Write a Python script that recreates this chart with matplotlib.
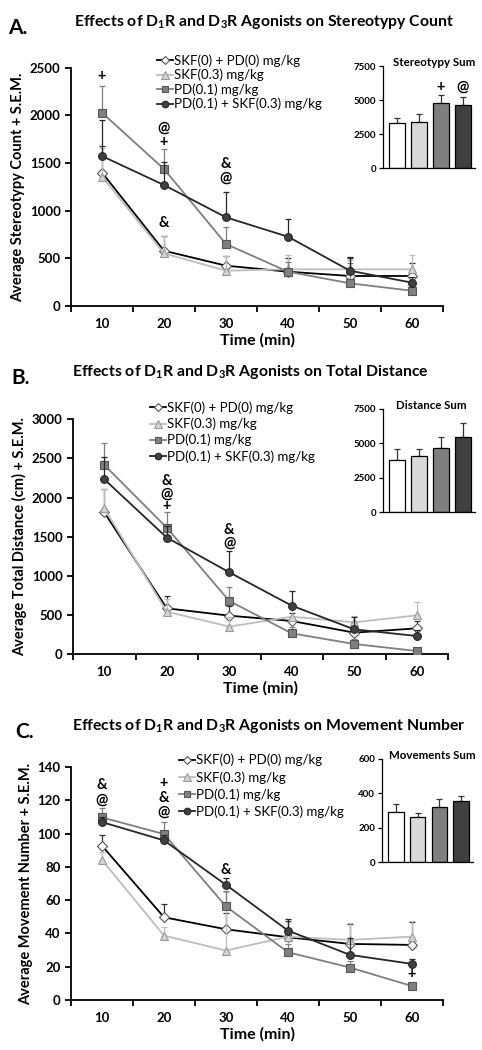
import matplotlib
matplotlib.use("Agg")
import matplotlib.pyplot as plt
import numpy as np

plt.rcParams['font.family'] = ['Lato', 'DejaVu Sans']
plt.rcParams['font.weight'] = 'bold'
plt.rcParams['mathtext.fontset'] = 'custom'
plt.rcParams['mathtext.rm'] = 'Lato:bold'
plt.rcParams['mathtext.bf'] = 'Lato:bold'
plt.rcParams['mathtext.it'] = 'Lato:bold'
plt.rcParams['mathtext.default'] = 'bf'

# ---------------- data ----------------
time = [10, 20, 30, 40, 50, 60]
labels = ["SKF(0) + PD(0) mg/kg", "SKF(0.3) mg/kg", "PD(0.1) mg/kg", "PD(0.1) + SKF(0.3) mg/kg"]

# Panel A: stereotypy count
stereo_mean = [
    [1400, 580, 423, 360, 315, 315],
    [1357, 552, 370, 385, 385, 385],
    [2028, 1437, 650, 360, 238, 160],
    [1573, 1269, 930, 727, 370, 245],
]
stereo_sem = [
    [280, 150, 100, 140, 185, 135],
    [300, 180, 150, 150, 100, 155],
    [280, 206, 182, 100, 210, 60],
    [378, 245, 266, 186, 140, 60],
]
stereo_sum = [3300, 3400, 4780, 4640]
stereo_sum_sem = [400, 600, 580, 550]

# Panel B: total distance
dist_mean = [
    [1811, 584, 490, 422, 273, 328],
    [1863, 541, 350, 477, 405, 494],
    [2417, 1615, 678, 264, 128, 38],
    [2234, 1488, 1044, 618, 315, 230],
]
dist_sem = [
    [295, 162, 120, 100, 120, 100],
    [240, 160, 120, 120, 85, 167],
    [277, 205, 175, 80, 60, 30],
    [290, 150, 277, 192, 160, 80],
]
dist_sum = [3780, 4070, 4630, 5490]
dist_sum_sem = [830, 540, 830, 1000]

# Panel C: movement number
move_mean = [
    [92.7, 49.7, 42.5, 37.7, 33.7, 33.1],
    [84.2, 38.7, 29.7, 38.1, 36.1, 38.1],
    [109.7, 99.7, 56.2, 28.7, 19.5, 8.4],
    [106.9, 95.9, 69.2, 41.7, 27.1, 21.7],
]
move_sem = [
    [6.2, 8.1, 10, 10, 12, 14],
    [5, 5, 35, 9, 10, 9.6],
    [5.6, 7.2, 9, 5, 4, 2],
    [3, 3, 4, 7, 10, 3],
]
move_sum = [290, 265, 319, 356]
move_sum_sem = [50, 22, 50, 30]

# significance annotations: (x, y, text)
annot_A = [(10, 2410, "+"), (20, 1870, "@"), (20, 1720, "+"), (30, 1490, "&"), (30, 1346, "@"), (20, 867, "&")]
annot_B = [(20, 2215, "&"), (20, 2046, "@"), (20, 1890, "+"), (30, 1586, "&"), (30, 1428, "@")]
annot_C = [(10, 129, "&"), (10, 120.3, "@"), (20, 130.5, "+"), (20, 121.5, "&"), (20, 113, "@"), (30, 78.2, "&"), (60, 15.6, "+")]
annot_insA = [(2, 5950, "+"), (3, 6000, "@")]

# ---------------- styles ----------------
line_colors = ["#000000", "#bdbdbd", "#7f7f7f", "#262626"]
marker_face = ["#ffffff", "#d4d4d4", "#808080", "#404040"]
marker_edge = ["#555555", "#9a9a9a", "#555555", "#262626"]
markers = ["D", "^", "s", "o"]
msizes = [4.8, 6.0, 5.6, 5.6]
bar_colors = ["#ffffff", "#d9d9d9", "#7f7f7f", "#404040"]
zorders = [3, 4, 5, 6]

W, H = 482, 1050
fig = plt.figure(figsize=(W / 100, H / 100), dpi=100)


def rect(l, r, t, b):
    return [l / W, 1 - b / H, (r - l) / W, (b - t) / H]


def main_panel(pos, means, sems, ymax, ystep, ylabel, annots, leg_anchor, leg_spacing, leg_fs):
    ax = fig.add_axes(pos)
    handles = []
    for i in range(4):
        ax.errorbar(time, means[i], yerr=[np.zeros(6), sems[i]], fmt="none",
                    ecolor=line_colors[i] if i != 0 else "#333333", elinewidth=0.9,
                    capsize=2.5, capthick=0.9, zorder=zorders[i] - 0.5)
        h, = ax.plot(time, means[i], color=line_colors[i], lw=1.3, marker=markers[i],
                     ms=msizes[i], mfc=marker_face[i], mec=marker_edge[i], mew=0.8,
                     zorder=zorders[i], label=labels[i])
        handles.append(h)
    ax.set_xlim(5, 65)
    ax.set_ylim(0, ymax)
    ax.set_yticks(np.arange(0, ymax + 1, ystep))
    ax.set_xticks(np.arange(5, 66, 10))
    ax.set_xticklabels([])
    ax.set_xticks(time, minor=True)
    ax.set_xticklabels([str(t) for t in time], minor=True)
    ax.tick_params(axis="x", which="major", direction="out", length=4, width=1.3)
    ax.tick_params(axis="x", which="minor", length=0, pad=9, labelsize=9.5)
    ax.tick_params(axis="y", direction="out", length=4, width=1.3, labelsize=9.5)
    for t in ax.get_xticklabels(minor=True) + ax.get_yticklabels():
        t.set_fontweight("bold")
    for s in ["top", "right"]:
        ax.spines[s].set_visible(False)
    for s in ["left", "bottom"]:
        ax.spines[s].set_linewidth(1.3)
    ax.set_ylabel(ylabel, fontsize=10.5, fontweight="bold", labelpad=3)
    ax.set_xlabel("Time (min)", fontsize=11.5, fontweight="bold", labelpad=2)
    for x, y, t in annots:
        ax.text(x, y, t, ha="center", va="center", fontsize=10.5, fontweight="bold", zorder=10)
    leg = ax.legend(handles=handles, loc="upper left", bbox_to_anchor=leg_anchor, frameon=False,
                    fontsize=leg_fs, handlelength=1.2, handletextpad=0.1, labelspacing=leg_spacing,
                    borderpad=0, borderaxespad=0, markerscale=0.85)
    for t in leg.get_texts():
        t.set_fontweight("normal")
    return ax


def inset(pos, vals, sems, ymax, ystep, title, title_x, annots):
    ax = fig.add_axes(pos)
    x = np.arange(4)
    ax.bar(x, vals, width=0.72, color=bar_colors, edgecolor="black", linewidth=0.9, zorder=2)
    ax.errorbar(x, vals, yerr=[np.zeros(4), sems], fmt="none", ecolor="#333333",
                elinewidth=0.9, capsize=2, capthick=0.9, zorder=1)
    ax.set_xlim(-0.64, 3.55)
    ax.set_ylim(0, ymax)
    ax.set_yticks(np.arange(0, ymax + 1, ystep))
    ax.set_xticks([])
    ax.tick_params(axis="y", direction="out", length=3, width=0.9, labelsize=7, pad=2)
    for t in ax.get_yticklabels():
        t.set_fontweight("bold")
    for s in ["top", "right"]:
        ax.spines[s].set_visible(False)
    ax.spines["left"].set_linewidth(0.9)
    ax.spines["bottom"].set_linewidth(0.9)
    ax.text(title_x, 1.03, title, transform=ax.transAxes, ha="center", va="center",
            fontsize=8.3, fontweight="bold")
    for xx, yy, t in annots:
        ax.text(xx, yy, t, ha="center", va="center", fontsize=10.5, fontweight="bold")
    return ax


# Panel A
main_panel(rect(71, 443, 67.7, 306), stereo_mean, stereo_sem, 2500, 500,
           "Average Stereotypy Count + S.E.M.", annot_A, (0.231, 1.056), 0.15, 9.5)
inset(rect(383, 475, 66, 168), stereo_sum, stereo_sum_sem, 7500, 2500, "Stereotypy Sum", 0.56, annot_insA)

# Panel B
main_panel(rect(73, 448, 419.3, 654), dist_mean, dist_sem, 3000, 500,
           "Average Total Distance (cm) + S.E.M.", annot_B, (0.205, 1.076), 0.28, 9.5)
inset(rect(383, 475, 409, 512), dist_sum, dist_sum_sem, 7500, 2500, "Distance Sum", 0.52, [])

# Panel C
main_panel(rect(71, 443, 767, 1000), move_mean, move_sem, 140, 20,
           "Average Movement Number + S.E.M.", annot_C, (0.29, 1.056), 0.34, 9.5)
inset(rect(382, 473, 759, 862), move_sum, move_sum_sem, 600, 200, "Movements Sum", 0.55, [])

# Titles
titles = [
    (264, 22, "A.", 18, "Effects of D$_1$R and D$_3$R Agonists on Stereotypy Count"),
    (250, 372, "B.", 21, "Effects of D$_1$R and D$_3$R Agonists on Total Distance"),
    (269, 726, "C.", 25, "Effects of D$_1$R and D$_3$R Agonists on Movement Number"),
]
for cx, cy, letter, lx, text in titles:
    fig.text(cx / W, 1 - cy / H, text, ha="center", va="center", fontsize=11.3, fontweight="bold")
    fig.text(lx / W, 1 - (cy + 6) / H, letter, ha="center", va="center", fontsize=15, fontweight="bold")

fig.savefig("out.png", dpi=100)
